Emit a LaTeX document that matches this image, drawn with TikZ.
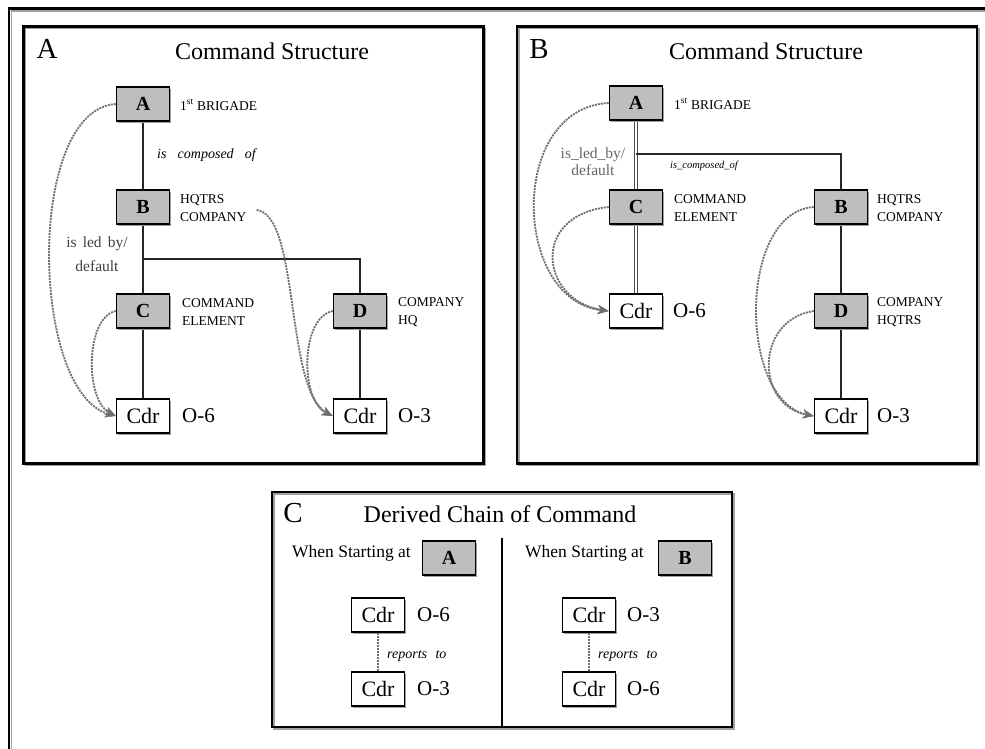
\documentclass[tikz,border=0pt]{standalone}
\usepackage{fontspec}
\setmainfont{Liberation Serif}
\usetikzlibrary{shadows,arrows.meta}
\definecolor{boxgray}{HTML}{BEBEBE}
\definecolor{dashgray}{HTML}{6E6E6E}
\definecolor{shgray}{HTML}{A0A0A0}
\begin{document}
\begin{tikzpicture}[x=1pt,y=-1pt,
  shd/.style={drop shadow={shadow xshift=1.5pt,shadow yshift=-1.5pt,fill=shgray,opacity=1}},
  lbox/.style={rectangle,draw=black,line width=1.6pt,fill=boxgray,minimum width=53pt,minimum height=34pt,inner sep=0pt,font=\fontsize{20}{22}\selectfont\bfseries,shd},
  cdr/.style={rectangle,draw=black,line width=1.6pt,fill=white,minimum width=53pt,minimum height=34pt,inner sep=0pt,font=\fontsize{22}{24}\selectfont,shd},
  tag/.style={anchor=west,align=left,inner sep=0pt,font=\fontsize{13.5}{18}\selectfont},
  rank/.style={anchor=west,inner sep=0pt,font=\fontsize{21}{23}\selectfont},
  ptitle/.style={inner sep=0pt,font=\fontsize{24}{26}\selectfont},
  plabel/.style={inner sep=0pt,font=\fontsize{29}{30}\selectfont},
  rel/.style={inner sep=0pt,font=\fontsize{14}{16}\selectfont\itshape},
  ledlab/.style={inner sep=0pt,align=center,font=\fontsize{15.5}{24}\selectfont},
  start/.style={anchor=west,inner sep=0pt,font=\fontsize{17.5}{19}\selectfont},
  tie/.style={line width=1.5pt,draw=black!85},
  dtie/.style={line width=0.9pt,draw=black!70,double=white,double distance=2.6pt},
  ledby/.style={draw=dashgray,line width=1.8pt,dash pattern=on 2pt off 1pt,-{Stealth[length=11pt,width=9pt,fill=dashgray,line width=0.4pt]}},
  rep/.style={draw=dashgray,line width=1.6pt,dash pattern=on 2pt off 1pt},
  frame/.style={draw=black,line width=2.4pt},
  frameshd/.style={draw=shgray,line width=1.5pt}
]
\useasboundingbox (0,0) rectangle (985,748);
\fill[white] (0,0) rectangle (985,748);
% outer frame
\draw[frameshd] (11.5,760) -- (11.5,11) -- (995,11);
\draw[frame] (9,760) -- (9,8.5) -- (995,8.5);
% panel frames
\draw[frameshd] (25.5,28.5) rectangle (485.5,465.5);
\draw[frame] (23.5,26.5) rectangle (483.5,463.5);
\draw[frameshd] (519,28.5) rectangle (979,465.5);
\draw[frame] (517,26.5) rectangle (977,463.5);
\draw[frameshd] (274,494) rectangle (734,729);
\draw[frame] (272,492) rectangle (732,727);

%% ---------------- Panel A
\node[plabel] (pA) at (47,49) {A};
\node[ptitle] (tA) at (272,51) {Command Structure};
\coordinate (aJ) at (143,259);
\coordinate (aJ2) at (360,259);
\draw[tie] (143,104) -- (aJ) -- (143,416);
\draw[tie] (aJ) -- (aJ2) -- (360,416);
\node[lbox] (aA) at (143,104) {A};
\node[lbox] (aB) at (143,207) {B};
\node[lbox] (aC) at (143,311) {C};
\node[lbox] (aD) at (360,311) {D};
\node[cdr] (aC6) at (143,416) {Cdr};
\node[cdr] (aC3) at (360,416) {Cdr};
\node[tag] (aAt) at (180,105) {1\textsuperscript{st} BRIGADE};
\node[tag] (aBt) at (180,208) {HQTRS\\COMPANY};
\node[tag] (aCt) at (182,312) {COMMAND\\ELEMENT};
\node[tag] (aDt) at (398,312) {COMPANY\\HQ};
\node[rank] (aR6) at (182,416) {O-6};
\node[rank] (aR3) at (398,416) {O-3};
\node[rel,anchor=west] (aRel) at (157,155) {is\hspace{0.8em}composed\hspace{0.8em}of};
\node[ledlab,text=black!75] (aLed) at (97,254) {is\hspace{0.4em}led\hspace{0.4em}by/\\default};
\draw[ledby] (aA.west) .. controls (26,110) and (30,392) .. (aC6.west);
\draw[ledby] (aC.west) .. controls (85,318) and (85,400) .. (aC6.west);
\draw[ledby] ([xshift=10pt,yshift=-2pt]aBt.east) .. controls (300,215) and (285,390) .. (aC3.west);
\draw[ledby] (aD.west) .. controls (300,318) and (300,400) .. (aC3.west);

%% ---------------- Panel B
\node[plabel] (pB) at (539,49) {B};
\node[ptitle] (tB) at (766,51) {Command Structure};
\coordinate (bJ) at (636,154);
\coordinate (bJ2) at (841,154);
\draw[dtie] (636,103) -- (636,311);
\draw[tie] (bJ) -- (bJ2) -- (841,416);
\node[lbox] (bA) at (636,103) {A};
\node[lbox] (bC) at (636,207) {C};
\node[lbox] (bB) at (841,207) {B};
\node[lbox] (bD) at (841,311) {D};
\node[cdr] (bC6) at (636,311) {Cdr};
\node[cdr] (bC3) at (841,416) {Cdr};
\node[tag] (bAt) at (674,104) {1\textsuperscript{st} BRIGADE};
\node[tag] (bCt) at (674,208) {COMMAND\\ELEMENT};
\node[tag] (bBt) at (877,208) {HQTRS\\COMPANY};
\node[tag] (bDt) at (877,312) {COMPANY\\HQTRS};
\node[rank] (bR6) at (673,311) {O-6};
\node[rank] (bR3) at (877,416) {O-3};
\node[rel,font=\fontsize{10.5}{13}\selectfont\itshape] (bRel) at (704,166) {is\_composed\_of};
\node[ledlab,text=black!60,font=\fontsize{15.5}{17}\selectfont] (bLed) at (593,162) {is\_led\_by/\\default};
\draw[ledby] (bA.west) .. controls (508,108) and (512,300) .. (bC6.west);
\draw[ledby] (bC.west) .. controls (530,215) and (540,300) .. (bC6.west);
\draw[ledby] (bB.west) .. controls (738,212) and (738,400) .. (bC3.west);
\draw[ledby] (bD.west) .. controls (755,320) and (755,405) .. (bC3.west);

%% ---------------- Panel C
\node[plabel] (pC) at (293,513) {C};
\node[ptitle] (tC) at (500,514) {Derived Chain of Command};
\coordinate (cTop) at (502,538);
\coordinate (cBot) at (502,727);
\draw[tie,draw=black] (cTop) -- (cBot);
\node[start] (cS1) at (292,553) {When Starting at};
\node[start] (cS2) at (525,553) {When Starting at};
\node[lbox] (cA) at (449,558) {A};
\node[lbox] (cB) at (685,558) {B};
\node[cdr] (cL1) at (378,615) {Cdr};
\node[cdr] (cL2) at (378,689) {Cdr};
\node[cdr] (cR1) at (589,615) {Cdr};
\node[cdr] (cR2) at (589,689) {Cdr};
\node[rank] (cL1r) at (417,615) {O-6};
\node[rank] (cL2r) at (417,689) {O-3};
\node[rank] (cR1r) at (627,615) {O-3};
\node[rank] (cR2r) at (627,689) {O-6};
\draw[rep] (cL1.south) -- (cL2.north);
\draw[rep] (cR1.south) -- (cR2.north);
\node[rel,anchor=west] (cLrep) at (387,656) {reports\hspace{0.6em}to};
\node[rel,anchor=west] (cRrep) at (598,656) {reports\hspace{0.6em}to};
\end{tikzpicture}
\end{document}
